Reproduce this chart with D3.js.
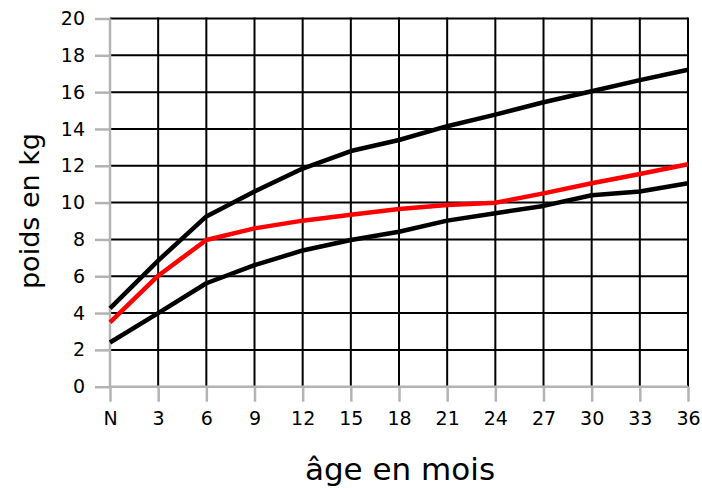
<!DOCTYPE html>
<html>
<head>
<meta charset="utf-8">
<script src="https://cdn.jsdelivr.net/npm/d3@7"></script>
<style>
html,body{margin:0;padding:0;background:#fff;}
svg{display:block;font-family:"DejaVu Sans",sans-serif;}
</style>
</head>
<body>
<svg id="chart" width="702" height="488"></svg>
<script>
const months = [0,3,6,9,12,15,18,21,24,27,30,33,36];
const monthLabels = ["N","3","6","9","12","15","18","21","24","27","30","33","36"];
const yTicks = [0,2,4,6,8,10,12,14,16,18,20];
const upperCurve = [4.25,6.85,9.25,10.6,11.85,12.8,13.4,14.15,14.78,15.45,16.05,16.65,17.22];
const lowerCurve = [2.4,4.0,5.62,6.6,7.4,7.97,8.42,9.02,9.42,9.82,10.4,10.6,11.05];
const childCurve = [3.5,6.03,7.97,8.6,9.02,9.34,9.65,9.87,9.99,10.5,11.05,11.55,12.08];

const svg = d3.select("#chart");
const mLeft = 110, mRight = 688, mTop = 18.5, mBottom = 386.7;
const x = d3.scaleLinear().domain([0,36]).range([mLeft,mRight]);
const y = d3.scaleLinear().domain([0,20]).range([mBottom,mTop]);

// grid
const g = svg.append("g");
g.selectAll("line.h").data(yTicks.filter(d=>d>0)).join("line")
  .attr("x1",mLeft).attr("x2",mRight).attr("y1",d=>y(d)).attr("y2",d=>y(d))
  .attr("stroke","#000").attr("stroke-width",2);
g.selectAll("line.v").data(months.filter(d=>d>0)).join("line")
  .attr("y1",mTop-1).attr("y2",mBottom).attr("x1",d=>x(d)).attr("x2",d=>x(d))
  .attr("stroke","#000").attr("stroke-width",2);

// axes
const yAxis = d3.axisLeft(y).tickValues(yTicks).tickSize(15).tickPadding(10);
const ya = svg.append("g").attr("transform",`translate(${mLeft},0)`).call(yAxis);
const xAxis = d3.axisBottom(x).tickValues(months).tickFormat((d,i)=>monthLabels[i]).tickSize(15).tickPadding(10);
const xa = svg.append("g").attr("transform",`translate(0,${mBottom})`).call(xAxis);
[ya,xa].forEach(a=>{
  a.attr("font-size",null).attr("font-family",null);
  a.select(".domain").attr("stroke","#b3b3b3").attr("stroke-width",2.5);
  a.selectAll(".tick line").attr("stroke","#b3b3b3").attr("stroke-width",2.5);
  a.selectAll(".tick text").attr("fill","#000").attr("font-size",19).attr("font-family","DejaVu Sans");
});
ya.select(".domain").attr("d",`M0,${mBottom}V${mTop}`);
xa.select(".domain").attr("d",`M${mLeft},0H${mRight}`);

// lines
const line = d3.line().x((d,i)=>x(months[i])).y(d=>y(d));
[[upperCurve,"#000"],[lowerCurve,"#000"],[childCurve,"#ff0000"]].forEach(([data,c])=>{
  svg.append("path").datum(data).attr("d",line).attr("fill","none")
    .attr("stroke",c).attr("stroke-width",4.5).attr("stroke-linejoin","round");
});

// labels
svg.append("text").attr("transform","translate(39,211) rotate(-90)")
  .attr("text-anchor","middle").attr("font-size",27).text("poids en kg");
svg.append("text").attr("x",400).attr("y",480)
  .attr("text-anchor","middle").attr("font-size",31).text("âge en mois");
</script>
</body>
</html>
